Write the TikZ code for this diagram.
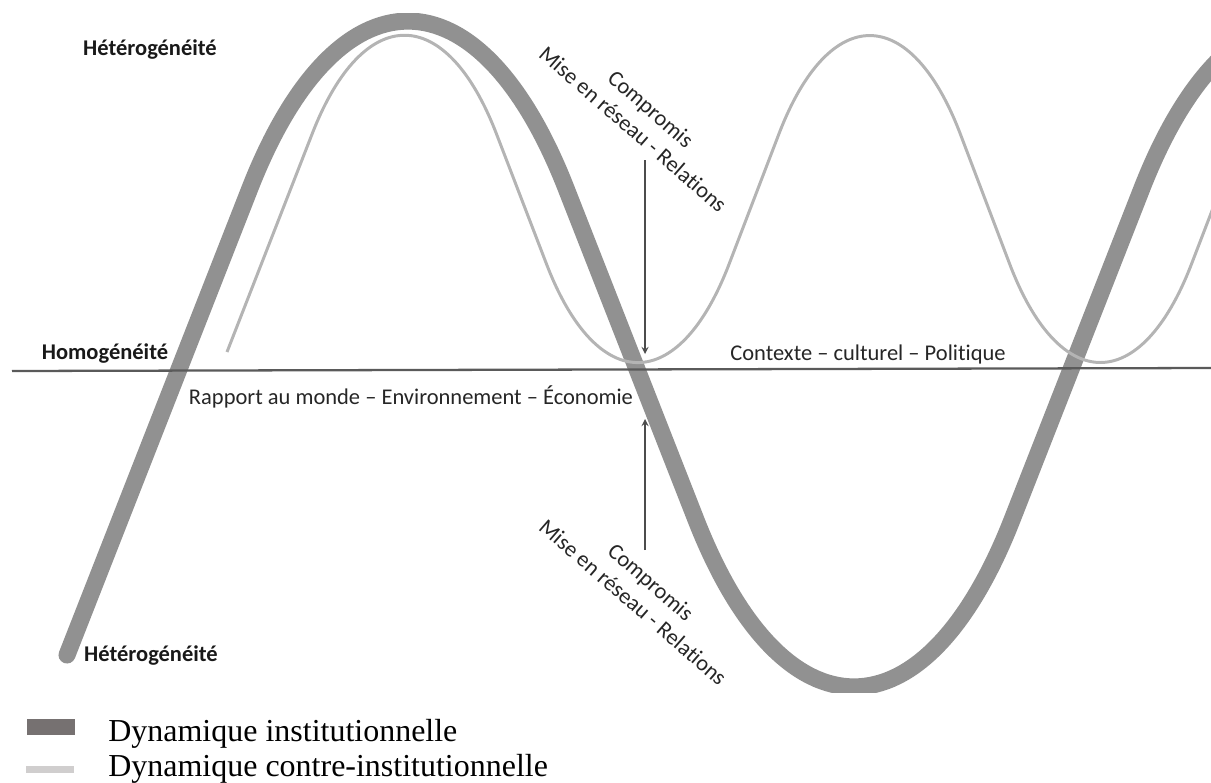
\documentclass[tikz,border=0pt]{standalone}
\usepackage{fontspec}
\setmainfont{Carlito}[Ligatures=NoCommon]
\newfontfamily\legendfont{Liberation Serif}
\usepackage{tikz}

\definecolor{instgrey}{HTML}{919191}
\definecolor{contregrey}{HTML}{B4B4B4}
\definecolor{legdark}{HTML}{767171}
\definecolor{leglight}{HTML}{D0CECE}
\definecolor{axisgrey}{HTML}{5A5A5A}

\begin{document}
\begin{tikzpicture}[x=0.02cm, y=-0.02cm,
    instpath/.style={draw=instgrey, line width=9.7pt, rounded corners=8.66cm},
    contrepath/.style={draw=contregrey, line width=1.7pt, rounded corners=5.1cm},
    axisline/.style={draw=axisgrey, line width=1.3pt},
    pointer/.style={draw=black!70, line width=0.8pt, -stealth},
    boldlabel/.style={font=\fontsize{12.8}{15.4}\selectfont\bfseries, text=black!90},
    plainlabel/.style={font=\fontsize{12.8}{15.4}\selectfont, text=black!85},
    legtext/.style={font=\legendfont\fontsize{18.2}{21}\selectfont, anchor=base west, inner sep=0pt}]
                \useasboundingbox (0,0) rectangle (1211,782);
                % the two dynamics
                \begin{scope}
                \clip (0,13) rectangle (1211,692);
                \draw[instpath, line cap=round] (67,655) -- (408,-215) -- (854,923) -- (1300,-215) -- (1746,923);
                \draw[contrepath] (227,352) -- (405,-104) -- (638,502) -- (870,-104) -- (1100,502) -- (1333,-104) -- (1566,502);
                \end{scope}
                % homogeneity axis
                \coordinate (axl) at (12,371);
                \coordinate (axr) at (1211,368);
                \draw[axisline] (axl) -- (axr);
                % labels
                \node[boldlabel] (hettop) at (150,50) {Hétérogénéité};
                \node[boldlabel] (homo) at (105,354) {Homogénéité};
                \node[boldlabel] (hetbot) at (151,656) {Hétérogénéité};
                \node[plainlabel] (eco) at (411,397) {Rapport au monde – Environnement – Économie};
                \node[plainlabel] (ctx) at (868,354) {Contexte – culturel – Politique};
                \node[plainlabel, rotate=-41, align=center] (comptop) at (642,119) {Compromis\\Mise en réseau - Relations};
                \node[plainlabel, rotate=-41, align=center] (compbot) at (642,592) {Compromis\\Mise en réseau - Relations};
                % arrows
                \coordinate (topfrom) at (645,160);
                \coordinate (topto) at (645,354);
                \draw[pointer] (topfrom) -- (topto);
                \coordinate (botfrom) at (645,550);
                \coordinate (botto) at (645,419);
                \draw[pointer] (botfrom) -- (botto);
                % legend
                \fill[legdark] (27,719) rectangle (75,735);
                \fill[leglight] (26,766) rectangle (74,773);
                \node[legtext] (leginst) at (108,741) {Dynamique institutionnelle};
                \node[legtext] (legcontre) at (108,776) {Dynamique contre-institutionnelle};
            \end{tikzpicture}
\end{document}
